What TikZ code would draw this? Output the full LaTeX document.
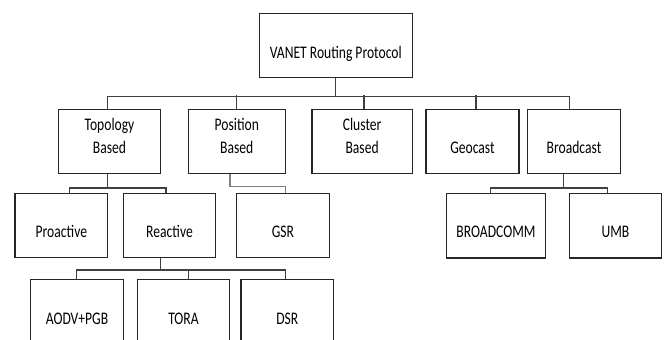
\documentclass[tikz,border=0pt]{standalone}
\usepackage{fontspec}
\setmainfont{Carlito}
\usepackage{graphicx}
\tikzset{
  box/.style={draw=black!85, line width=1.2pt, inner sep=0pt, rectangle},
  conn/.style={draw=black!75, line width=1.2pt},
  conn2/.style={draw=black!50, line width=1.2pt},
  lbl/.style={anchor=base, inner sep=0pt, font=\fontsize{13.6}{17.9}\selectfont, text=black},
}
\newcommand{\vs}[1]{\scalebox{1}[1.3]{#1}}
\newcommand{\twoln}[2]{\vs{\begin{tabular}[t]{@{}c@{}}#1\\#2\end{tabular}}}
\newcommand{\bx}[5]{\node[box, minimum width={#4-#2}, minimum height={#5-#3}] (#1) at ({(#2+#4)/2},{(#3+#5)/2}) {};}

\begin{document}
\begin{tikzpicture}[x=1pt,y=-1pt]
\clip (0,0) rectangle (665,340);
\fill[white] (0,0) rectangle (665,340);

% boxes
\bx{root}{259.3}{13.7}{412.3}{77.7}
\bx{topo}{58.3}{109.3}{160.7}{173.3}
\bx{pos}{188.3}{109.3}{285.3}{173.3}
\bx{clus}{312}{109.3}{412.3}{173.3}
\bx{geo}{426}{109.3}{519}{173.3}
\bx{bcast}{527.7}{109.3}{620.3}{173.3}
\bx{pro}{15}{193.3}{107.7}{257.7}
\bx{rea}{123.3}{193.3}{215.7}{257.7}
\bx{gsr}{236.7}{193.3}{329.3}{257.7}
\bx{bcm}{446.7}{193.3}{545.3}{258}
\bx{umb}{569.3}{193.3}{661.7}{258}
\bx{aodv}{30.7}{279.3}{123.3}{352}
\bx{tora}{137.7}{279.3}{229.3}{352}
\bx{dsr}{241}{279.3}{333.7}{352}

% texts
\node[lbl] (root-t) at (335.8,58.7) {\vs{VANET Routing Protocol}};
\node[lbl] (topo-t) at (109.5,130) {\twoln{Topology}{Based}};
\node[lbl] (pos-t) at (236.8,130) {\twoln{Position}{Based}};
\node[lbl] (clus-t) at (362.15,130) {\twoln{Cluster}{Based}};
\node[lbl] (geo-t) at (472.5,153.5) {\vs{Geocast}};
\node[lbl] (bcast-t) at (574,153.5) {\vs{Broadcast}};
\node[lbl] (pro-t) at (61.35,237.7) {\vs{Proactive}};
\node[lbl] (rea-t) at (169.5,237.7) {\vs{Reactive}};
\node[lbl] (gsr-t) at (283,237.7) {\vs{GSR}};
\node[lbl] (bcm-t) at (496,237.7) {\vs{BROADCOMM}};
\node[lbl] (umb-t) at (615.5,237.7) {\vs{UMB}};
\node[lbl] (aodv-t) at (77,324.3) {\vs{AODV+PGB}};
\node[lbl] (tora-t) at (183.5,324.3) {\vs{TORA}};
\node[lbl] (dsr-t) at (287.35,324.3) {\vs{DSR}};

% connectors: level 1
\draw[conn] (root.south) -- ++(0,18.3) coordinate (rj);
\draw[conn] ([xshift=-1.8pt]topo.north) |- (rj) -| ([xshift=-4.7pt]bcast.north);
\draw[conn] (pos.north) -- ++(0,-13.3);
\draw[conn] ([xshift=1.85pt]clus.north) -- ++(0,-13.3);
\draw[conn] ([xshift=3.5pt]geo.north) -- ++(0,-13.3);

% topology
\draw[conn] ([xshift=-1.8pt]topo.south) -- ++(0,14) coordinate (tj);
\draw[conn] ([xshift=8pt]pro.north) |- (tj) -| ([xshift=-3.5pt]rea.north);

% position
\draw[conn2] ([xshift=-6.8pt]pos.south) -- ++(0,12.7) -| ([xshift=2.3pt]gsr.north);

% reactive
\draw[conn] ([xshift=-8.8pt]rea.south) -- ++(0,11.6) coordinate (rej);
\draw[conn] ([xshift=-0.7pt]aodv.north) |- (rej) -| ([xshift=-2pt]dsr.north);
\draw[conn] ([xshift=4.8pt]tora.north) -- ++(0,-10);

% broadcast
\draw[conn] ([xshift=-10.7pt]bcast.south) -- ++(0,14) coordinate (bj);
\draw[conn] ([xshift=-5.3pt]bcm.north) |- (bj) -| ([xshift=-7.8pt]umb.north);
\end{tikzpicture}
\end{document}
